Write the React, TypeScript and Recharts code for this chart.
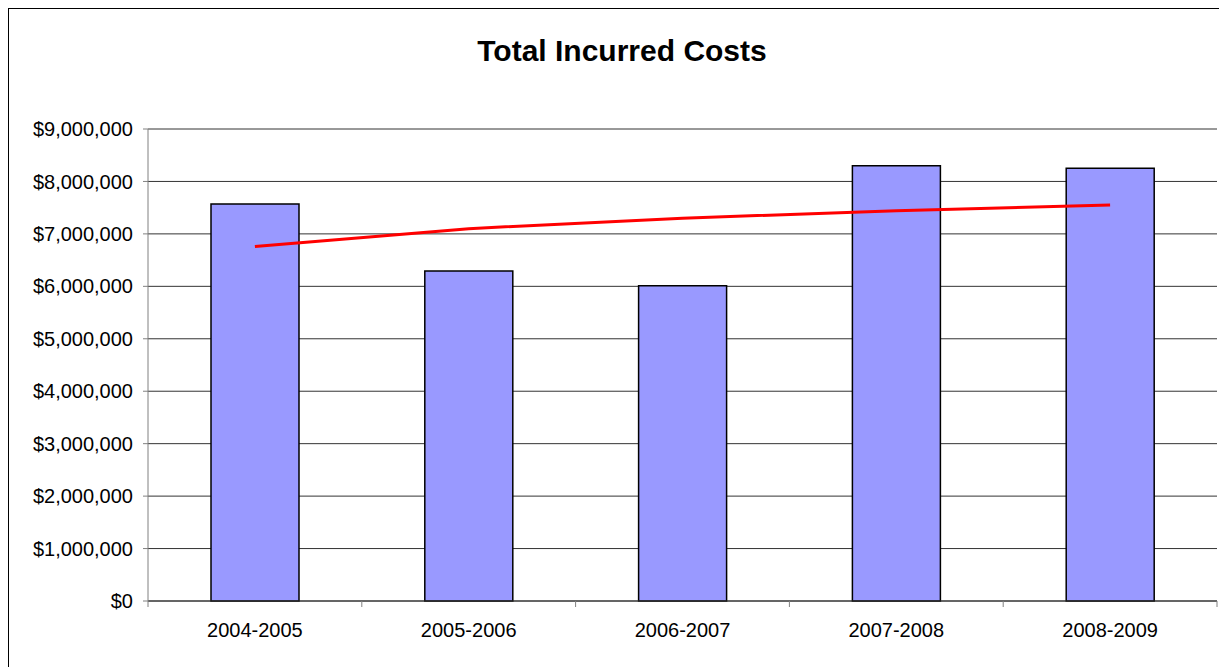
import React from 'react'
import { ComposedChart, Bar, Line, XAxis, YAxis, CartesianGrid } from 'recharts'

const years = ['2004-2005', '2005-2006', '2006-2007', '2007-2008', '2008-2009']
const incurredCosts = [7570000, 6290000, 6010000, 8300000, 8250000]
const trendCosts = [6760000, 7100000, 7300000, 7440000, 7550000]
const yTicks = [0, 1000000, 2000000, 3000000, 4000000, 5000000, 6000000, 7000000, 8000000, 9000000]

const data = years.map((year, i) => ({
  year,
  cost: incurredCosts[i],
  trend: trendCosts[i],
}))

const FONT = '"Liberation Sans", Arial, sans-serif'
const CHART_W = 1218
const CHART_H = 658
const MARGIN = { top: 120, right: 10, left: 0, bottom: 26 }
const Y_AXIS_W = 139
const PLOT_W = CHART_W - MARGIN.left - MARGIN.right - Y_AXIS_W
const BAND = PLOT_W / years.length
const TICK_SIZE = 6
const TICK_MARGIN = 16

const money = (v: number) => '$' + v.toLocaleString('en-US')

// Excel puts category ticks between the bars, so draw them from the label position
const CategoryTick = (props: any) => {
  const { x, y, payload, index } = props
  const axisY = y - TICK_SIZE - TICK_MARGIN
  return (
    <g>
      <line x1={x - BAND / 2} x2={x - BAND / 2} y1={axisY} y2={axisY + TICK_SIZE} stroke="#808080" />
      {index === years.length - 1 && (
        <line x1={x + BAND / 2} x2={x + BAND / 2} y1={axisY} y2={axisY + TICK_SIZE} stroke="#808080" />
      )}
      <text x={x} y={y} dy="0.71em" textAnchor="middle" fill="#000" fontSize={20} fontFamily={FONT}>
        {payload.value}
      </text>
    </g>
  )
}

export default function App() {
  return (
    <>
      <style>{`html, body { overflow: hidden; }`}</style>
      <div
        style={{
          position: 'relative',
          width: CHART_W,
          height: CHART_H,
          borderTop: '1px solid #000',
          borderLeft: '1px solid #000',
          fontFamily: FONT,
        }}
      >
        <div
          style={{
            position: 'absolute',
            top: 27,
            left: 0,
            width: 1226,
            textAlign: 'center',
            fontSize: 30,
            lineHeight: '30px',
            fontWeight: 'bold',
            color: '#000',
          }}
        >
          Total Incurred Costs
        </div>
        <ComposedChart width={CHART_W} height={CHART_H} data={data} margin={MARGIN}>
          <CartesianGrid vertical={false} stroke="#333" strokeWidth={1} />
          <XAxis
            dataKey="year"
            height={40}
            axisLine={{ stroke: '#333' }}
            tickLine={false}
            tickSize={TICK_SIZE}
            tickMargin={TICK_MARGIN}
            tick={<CategoryTick />}
            interval={0}
          />
          <YAxis
            width={Y_AXIS_W}
            domain={[0, 9000000]}
            ticks={yTicks}
            tickFormatter={money}
            axisLine={{ stroke: '#808080' }}
            tickLine={{ stroke: '#808080' }}
            tickSize={5}
            tickMargin={10}
            tick={{ fill: '#000', fontSize: 20, fontFamily: FONT }}
            interval={0}
          />
          <Bar dataKey="cost" fill="#9999FF" stroke="#000" strokeWidth={1.5} barSize={88} isAnimationActive={false} />
          <Line
            dataKey="trend"
            type="linear"
            stroke="#FF0000"
            strokeWidth={3}
            dot={false}
            activeDot={false}
            isAnimationActive={false}
          />
        </ComposedChart>
      </div>
    </>
  )
}
